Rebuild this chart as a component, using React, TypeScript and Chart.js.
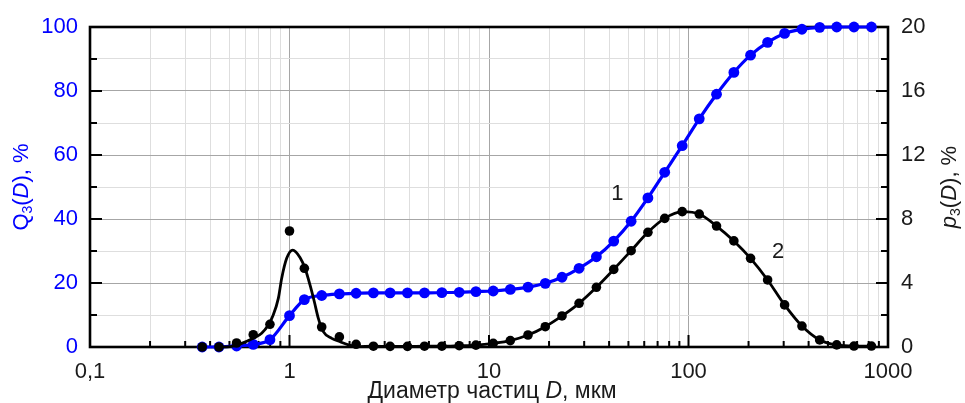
import React, { useEffect, useRef } from "react";
import { Chart, registerables } from "chart.js";

Chart.register(...registerables);

// Particle diameters, µm (measurement bins)
const diameters = [
  0.365, 0.443, 0.543, 0.658, 0.798, 1.0, 1.187, 1.45, 1.778, 2.157,
  2.634, 3.194, 3.902, 4.75, 5.805, 7.09, 8.6, 10.5, 12.79, 15.69,
  19.15, 23.23, 28.28, 34.54, 42.19, 51.57, 62.6, 76.0, 93.0, 113.2,
  138.2, 168.8, 204.7, 249.2, 303.2, 370.4, 454.5, 553.3, 675.2, 826,
];
// Curve 1: cumulative Q3(D), %
const cumulativeQ3 = [
  0, 0, 0.3, 0.8, 2.3, 9.8, 14.8, 16.1, 16.6, 16.8,
  16.9, 16.9, 16.9, 16.9, 17.0, 17.1, 17.3, 17.5, 18.0, 18.7,
  19.9, 21.8, 24.6, 28.2, 33.1, 39.3, 46.6, 54.6, 62.9, 71.3,
  79.0, 85.8, 91.2, 95.2, 98.0, 99.3, 99.9, 100, 100, 100,
];
// Curve 2: density p3(D), %
const densityP3 = [
  0, 0, 0.25, 0.77, 1.42, 7.25, 4.92, 1.25, 0.63, 0.17,
  0.05, 0.04, 0.04, 0.05, 0.05, 0.08, 0.12, 0.23, 0.4, 0.75,
  1.27, 1.94, 2.73, 3.73, 4.85, 6.02, 7.17, 8.04, 8.46, 8.31,
  7.56, 6.63, 5.54, 4.19, 2.63, 1.31, 0.44, 0.13, 0.06, 0.06,
];
// Smooth fitted curve of the first mode
const fitCurveD = [
  0.45, 0.503, 0.576, 0.658, 0.725, 0.783, 0.829, 0.879, 0.914, 0.968,
  1.038, 1.129, 1.196, 1.267, 1.332, 1.395, 1.477, 1.628, 1.793, 1.973, 2.175,
];
const fitCurveP = [
  0, 0.02, 0.23, 0.54, 0.86, 1.38, 2.0, 3.04, 4.3, 5.54,
  6.06, 5.6, 4.92, 3.88, 2.83, 1.79, 0.96, 0.54, 0.33, 0.13, 0.02,
];

const xTickLabels: Record<string, string> = { "0.1": "0,1", "1": "1", "10": "10", "100": "100", "1000": "1000" };
const curveLabels = [
  { text: "1", x: 44, y: 47.7, axis: "y" },
  { text: "2", x: 281, y: 5.94, axis: "y2" },
];

const FONT = '"Liberation Sans", Arial, sans-serif';
const BLUE = "#0000ff";
const MAJOR_GRID = "#a6a6a6";
const MINOR_GRID = "#dedede";

const isDecade = (v: number) => Math.abs(Math.log10(v) - Math.round(Math.log10(v))) < 1e-6;

type Part = { t: string; italic?: boolean; sub?: boolean };

function drawRich(ctx: CanvasRenderingContext2D, parts: Part[], cx: number, cy: number, rot: number, color: string, size: number) {
  ctx.save();
  ctx.translate(cx, cy);
  ctx.rotate(rot);
  ctx.fillStyle = color;
  ctx.textBaseline = "middle";
  ctx.textAlign = "left";
  const fontOf = (p: Part) => `${p.italic ? "italic " : ""}${p.sub ? Math.round(size * 0.62) : size}px ${FONT}`;
  let total = 0;
  const widths = parts.map((p) => {
    ctx.font = fontOf(p);
    const w = ctx.measureText(p.t).width;
    total += w;
    return w;
  });
  let x = -total / 2;
  parts.forEach((p, i) => {
    ctx.font = fontOf(p);
    ctx.fillText(p.t, x, p.sub ? size * 0.3 : 0);
    x += widths[i];
  });
  ctx.restore();
}

const framePlugin = {
  id: "frame",
  beforeDatasetsDraw(chart: any) {
    const { ctx, chartArea: a, scales } = chart;
    ctx.save();
    ctx.strokeStyle = "#000";
    ctx.lineWidth = 2;
    ctx.beginPath();
    for (let v = 10; v < 100; v += 10) {
      const y = scales.y.getPixelForValue(v);
      const len = v % 20 === 0 ? 12 : 7;
      ctx.moveTo(a.left, y);
      ctx.lineTo(a.left + len, y);
    }
    for (let v = 2; v < 20; v += 2) {
      const y = scales.y2.getPixelForValue(v);
      const len = v % 4 === 0 ? 12 : 7;
      ctx.moveTo(a.right, y);
      ctx.lineTo(a.right - len, y);
    }
    scales.x.ticks.forEach((t: any) => {
      const x = scales.x.getPixelForValue(t.value);
      if (x <= a.left + 1 || x >= a.right - 1) return;
      const len = isDecade(t.value) ? 12 : 6;
      ctx.moveTo(x, a.bottom);
      ctx.lineTo(x, a.bottom - len);
    });
    ctx.stroke();
    ctx.lineWidth = 2.6;
    ctx.strokeRect(a.left, a.top, a.right - a.left, a.bottom - a.top);
    ctx.restore();
  },
  afterDatasetsDraw(chart: any) {
    const { ctx, scales } = chart;
    ctx.save();
    ctx.fillStyle = "#1a1a1a";
    ctx.font = `22px ${FONT}`;
    ctx.textAlign = "center";
    ctx.textBaseline = "middle";
    curveLabels.forEach((l) => {
      ctx.fillText(l.text, scales.x.getPixelForValue(l.x), scales[l.axis].getPixelForValue(l.y));
    });
    ctx.restore();
  },
  afterDraw(chart: any) {
    const { ctx, chartArea: a } = chart;
    const midY = (a.top + a.bottom) / 2;
    drawRich(ctx, [{ t: "Q" }, { t: "3", sub: true }, { t: "(" }, { t: "D", italic: true }, { t: "), %" }], 22, midY, -Math.PI / 2, BLUE, 22);
    drawRich(ctx, [{ t: "p", italic: true }, { t: "3", sub: true }, { t: "(" }, { t: "D", italic: true }, { t: "), %" }], 950, midY, -Math.PI / 2, "#1a1a1a", 22);
    drawRich(ctx, [{ t: "Диаметр частиц " }, { t: "D", italic: true }, { t: ", мкм" }], 492, 392, 0, "#1a1a1a", 23);
  },
};

export default function App() {
  const ref = useRef<HTMLCanvasElement | null>(null);
  useEffect(() => {
    if (!ref.current) return;
    const linePart = diameters
      .map((d, i) => ({ x: d, y: densityP3[i] }))
      .filter((p) => p.x > fitCurveD[fitCurveD.length - 1]);
    const fitLine = fitCurveD.map((d, i) => ({ x: d, y: fitCurveP[i] })).concat(linePart);
    const chart = new Chart(ref.current, {
      type: "line",
      data: {
        datasets: [
          {
            data: diameters.map((d, i) => ({ x: d, y: densityP3[i] })),
            yAxisID: "y2",
            showLine: false,
            pointRadius: 4.8,
            pointBackgroundColor: "#000",
            pointBorderColor: "#000",
            pointBorderWidth: 0,
            clip: false,
          } as any,
          {
            data: fitLine,
            yAxisID: "y2",
            borderColor: "#000",
            borderWidth: 2.8,
            pointRadius: 0,
            cubicInterpolationMode: "monotone",
            clip: false,
          } as any,
          {
            data: diameters.map((d, i) => ({ x: d, y: cumulativeQ3[i] })),
            yAxisID: "y",
            borderColor: BLUE,
            borderWidth: 3.2,
            pointRadius: 5.4,
            pointBackgroundColor: BLUE,
            pointBorderColor: BLUE,
            pointBorderWidth: 0,
            cubicInterpolationMode: "monotone",
            clip: false,
          } as any,
        ],
      },
      options: {
        responsive: false,
        animation: false,
        layout: { padding: { top: 27, left: 0, right: 0, bottom: 0 } },
        plugins: { legend: { display: false }, tooltip: { enabled: false } },
        scales: {
          x: {
            type: "logarithmic",
            min: 0.1,
            max: 1000,
            afterBuildTicks: (scale: any) => {
              const ticks: { value: number }[] = [];
              [0.1, 1, 10, 100].forEach((d) => {
                for (let k = 1; k <= 9; k++) ticks.push({ value: +(d * k).toPrecision(6) });
              });
              ticks.push({ value: 1000 });
              scale.ticks = ticks;
            },
            afterFit: (scale: any) => {
              scale.height = 56;
            },
            ticks: {
              autoSkip: false,
              maxRotation: 0,
              padding: 12,
              color: "#1a1a1a",
              font: { family: FONT, size: 22 },
              callback: (v: any) => {
                const key = String(+Number(v).toPrecision(6));
                return xTickLabels[key] ?? "";
              },
            },
            grid: {
              drawTicks: false,
              color: (c: any) => (c.tick && isDecade(c.tick.value) ? MAJOR_GRID : MINOR_GRID),
              lineWidth: 1,
            },
            border: { display: false },
          } as any,
          y: {
            position: "left",
            min: 0,
            max: 100,
            afterFit: (scale: any) => {
              scale.width = 90;
            },
            ticks: {
              stepSize: 10,
              padding: 12,
              color: BLUE,
              font: { family: FONT, size: 22 },
              callback: (v: any) => (Number(v) % 20 === 0 ? String(v) : ""),
            },
            grid: {
              drawTicks: false,
              color: (c: any) => (c.tick && c.tick.value % 20 === 0 ? MAJOR_GRID : MINOR_GRID),
              lineWidth: 1,
            },
            border: { display: false },
          } as any,
          y2: {
            position: "right",
            min: 0,
            max: 20,
            afterFit: (scale: any) => {
              scale.width = 77;
            },
            ticks: {
              stepSize: 2,
              padding: 13,
              color: "#1a1a1a",
              font: { family: FONT, size: 22 },
              callback: (v: any) => (Number(v) % 4 === 0 ? String(v) : ""),
            },
            grid: { drawOnChartArea: false, drawTicks: false },
            border: { display: false },
          } as any,
        },
      },
      plugins: [framePlugin],
    });
    return () => chart.destroy();
  }, []);
  return (
    <div style={{ position: "absolute", left: 0, top: 0, width: 965, height: 403, background: "#fff" }}>
      <canvas ref={ref} width={965} height={403} style={{ display: "block" }} />
    </div>
  );
}
